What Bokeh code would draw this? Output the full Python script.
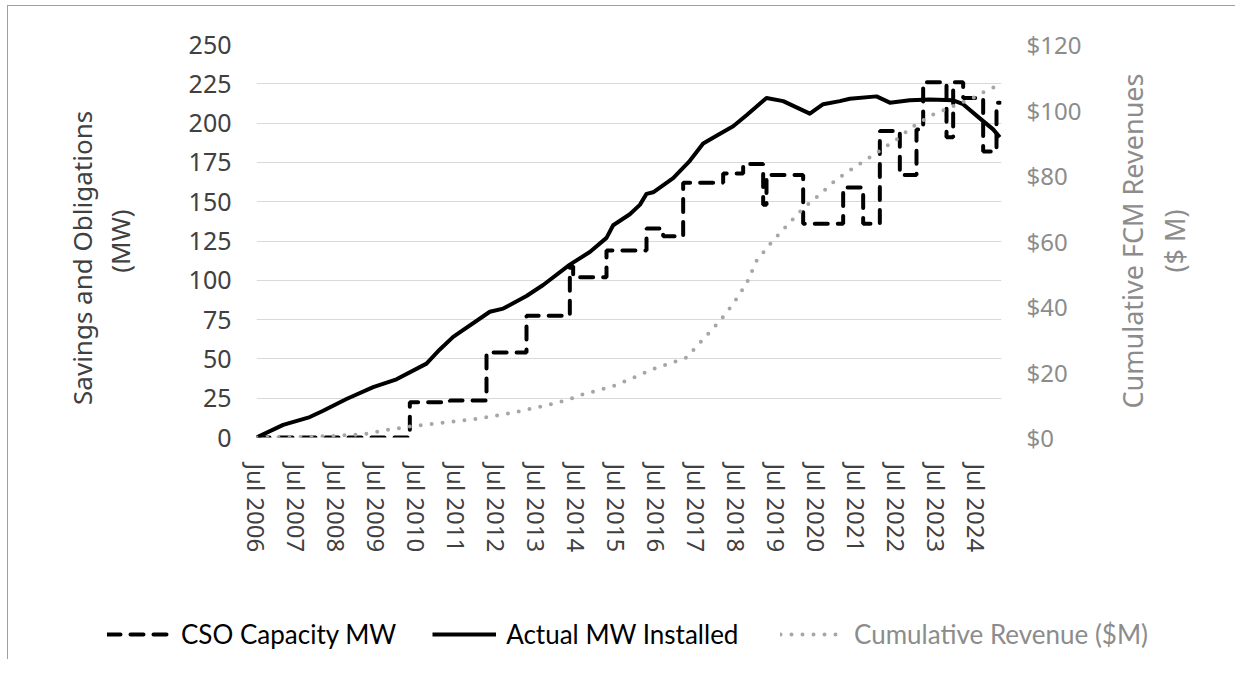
import math
from bokeh.plotting import figure
from bokeh.layouts import row
from bokeh.models import Range1d, LinearAxis, FixedTicker, Legend, LegendItem
from bokeh.core.properties import value
from bokeh.embed import file_html
from bokeh.resources import INLINE

# ---------------- data ----------------
tick_months = [0, 12, 24, 36, 48, 60, 72, 84, 96, 108, 120, 132, 144, 156, 168, 180, 192, 204, 216]
tick_labels = ["Jul 2006", "Jul 2007", "Jul 2008", "Jul 2009", "Jul 2010", "Jul 2011",
               "Jul 2012", "Jul 2013", "Jul 2014", "Jul 2015", "Jul 2016", "Jul 2017",
               "Jul 2018", "Jul 2019", "Jul 2020", "Jul 2021", "Jul 2022", "Jul 2023",
               "Jul 2024"]

mw_ticks = [0, 25, 50, 75, 100, 125, 150, 175, 200, 225, 250]
rev_ticks = [0, 20, 40, 60, 80, 100, 120]
rev_tick_labels = ["$0", "$20", "$40", "$60", "$80", "$100", "$120"]

# CSO capacity obligation (MW), step changes: month index since Jul 2006
cso_month = [0, 46, 58, 69, 81, 94, 95, 105, 117, 122, 128, 140, 146, 152, 153,
             164, 176, 182, 187, 193, 198, 200, 207, 209, 212, 218, 222, 223]
cso_mw = [0, 22.5, 23.5, 54, 77.5, 109, 102, 119, 133, 128, 162, 168, 174, 148, 167,
          136, 159, 136, 195, 167, 196, 226, 191, 226, 216, 182, 213, 213]

# Actual MW installed
act_month = [0, 8, 16, 20, 27, 35, 42, 51, 55, 59, 70, 74, 81, 86, 94, 100, 105, 107,
             112, 115, 117, 119, 125, 130, 134, 138, 143, 147, 153, 158, 166, 170, 175,
             178, 186, 190, 196, 202, 209, 212, 217, 221, 223]
act_mw = [0, 8, 13, 17, 24.5, 32, 37, 47, 56, 64, 80, 82, 90, 97, 110, 118, 127, 135,
          142, 148, 155, 156, 165, 176, 187, 192, 198, 205, 216, 214, 206, 212, 214,
          215.5, 217, 213, 214.5, 215, 214.5, 212, 203, 196, 191]

# Cumulative FCM revenue ($M)
rev_month = [0, 12, 24, 32, 39, 47, 57, 67, 77, 87, 94, 97, 107, 113, 119, 129, 134, 139,
             143, 147, 150, 154, 159, 164, 169, 174, 180, 186, 192, 197, 203, 210, 216,
             219, 222]
rev_musd = [0, 0.1, 0.5, 1.0, 2.3, 3.5, 4.6, 5.8, 7.6, 9.8, 11.7, 12.9, 15.7, 18.2, 20.9,
            24.4, 30, 35.6, 40.8, 47, 53.9, 59, 64.6, 70, 74.2, 78.8, 82.9, 86.9, 91, 95,
            98.6, 101.6, 104.2, 106, 107.3]

series_names = ["CSO Capacity MW", "Actual MW Installed", "Cumulative Revenue ($M)"]
right_title = "Cumulative FCM Revenues\n($ M)"

# ---------------- styles ----------------
TICK_FONT = "Noto Sans"
LEG_FONT = "Lato"
DARK = "#404040"
GRAY = "#8c8c8c"
BORDER = "1px solid #a0a0a0"
W = 1227
PW = 1102          # main chart width; the rest holds the right-hand title
PH = 603
CSO_STYLE = dict(line_color="black", line_width=4, line_dash="13 10", line_cap="round")
ACT_STYLE = dict(line_color="black", line_width=4, line_join="round")
REV_STYLE = dict(line_color="#a6a6a6", line_width=4, line_dash="0 11", line_cap="round")

# ---------------- main figure ----------------
p = figure(width=PW, height=PH, output_backend="svg", toolbar_location=None,
           x_range=Range1d(0, 223.5), y_range=Range1d(0, 250),
           min_border_left=248, min_border_right=PW - 248 - 745, min_border_top=38,
           min_border_bottom=PH - 38 - 393)
p.outline_line_color = None
p.extra_y_ranges = {"rev": Range1d(0, 120)}

p.xgrid.visible = False
p.ygrid.ticker = FixedTicker(ticks=mw_ticks)
p.ygrid.grid_line_color = "#d9d9d9"
p.ygrid.grid_line_width = 1

r_cso = p.step(cso_month, cso_mw, mode="after", **CSO_STYLE)
r_act = p.line(act_month, act_mw, **ACT_STYLE)
r_rev = p.line(rev_month, rev_musd, y_range_name="rev", **REV_STYLE)

def style_axis(ax, color, size="25px"):
    ax.axis_line_color = None
    ax.major_tick_line_color = None
    ax.minor_tick_line_color = None
    ax.major_label_text_font = TICK_FONT
    ax.major_label_text_font_size = size
    ax.major_label_text_color = color
    ax.axis_label_text_font = TICK_FONT
    ax.axis_label_text_font_size = "26px"
    ax.axis_label_text_font_style = "normal"
    ax.axis_label_text_color = color

xa = p.xaxis[0]
xa.ticker = FixedTicker(ticks=tick_months)
xa.major_label_overrides = {m: l for m, l in zip(tick_months, tick_labels)}
xa.major_label_orientation = "vertical"
xa.major_label_standoff = 20
style_axis(xa, DARK, "24px")

ya = p.yaxis[0]
ya.ticker = FixedTicker(ticks=mw_ticks)
ya.axis_label = "Savings and Obligations" + "\u00a0" * 5 + "\n(MW)"
ya.major_label_standoff = 19
ya.axis_label_standoff = 48
ya.axis_label_text_line_height = 1.05
style_axis(ya, DARK)

ra = LinearAxis(y_range_name="rev", ticker=FixedTicker(ticks=rev_ticks),
                major_label_overrides={t: l for t, l in zip(rev_ticks, rev_tick_labels)})
ra.major_label_standoff = 19
style_axis(ra, GRAY, "24px")
p.add_layout(ra, "right")

# ---------------- right-hand axis title (reads bottom-to-top) ----------------
RW = W - PW
r = figure(width=RW, height=PH, output_backend="svg", toolbar_location=None,
           x_range=Range1d(0, RW), y_range=Range1d(0, 1), min_border=0,
           x_axis_location=None, y_axis_location=None)
r.grid.visible = False
r.outline_line_color = None
r.text(x=[43], y=[0.5], text=[right_title], angle=math.pi / 2,
       text_align="center", text_baseline="middle", text_font=value(TICK_FONT),
       text_font_size="27px", text_color=GRAY, text_line_height=1.15)

top = row(p, r, spacing=0)
top.styles = {"margin-left": "7px", "margin-top": "5px",
              "border-left": BORDER, "border-top": BORDER}

# ---------------- legend strip ----------------
q = figure(width=W, height=50, output_backend="svg", toolbar_location=None,
           x_range=Range1d(0, 1), y_range=Range1d(0, 1), min_border=0,
           x_axis_location=None, y_axis_location=None)
q.styles = {"margin-left": "7px", "border-left": BORDER}
q.grid.visible = False
q.outline_line_color = None
nan2 = [float("nan"), float("nan")]
g_cso = q.step([0, 1], nan2, mode="after", **CSO_STYLE)
g_act = q.line([0, 1], nan2, **ACT_STYLE)
g_rev = q.line([0, 1], nan2, **REV_STYLE)

def make_legend(items, offset, color):
    lg = Legend(items=items, orientation="horizontal", location="left")
    lg.label_text_font = LEG_FONT
    lg.label_text_font_size = "26px"
    lg.label_text_color = color
    lg.glyph_width = 64
    lg.glyph_height = 30
    lg.label_height = 30
    lg.label_standoff = 10
    lg.spacing = 36
    lg.padding = 0
    lg.margin = offset
    lg.border_line_color = None
    lg.background_fill_alpha = 0
    return lg

leg1 = make_legend([LegendItem(label=series_names[0], renderers=[g_cso]),
                    LegendItem(label=series_names[1], renderers=[g_act])],
                   99, "black")
leg2 = make_legend([LegendItem(label=series_names[2], renderers=[g_rev])],
                   772, GRAY)
q.add_layout(leg1)
q.add_layout(leg2)

open("out.html", "w").write(file_html([top, q], INLINE))
